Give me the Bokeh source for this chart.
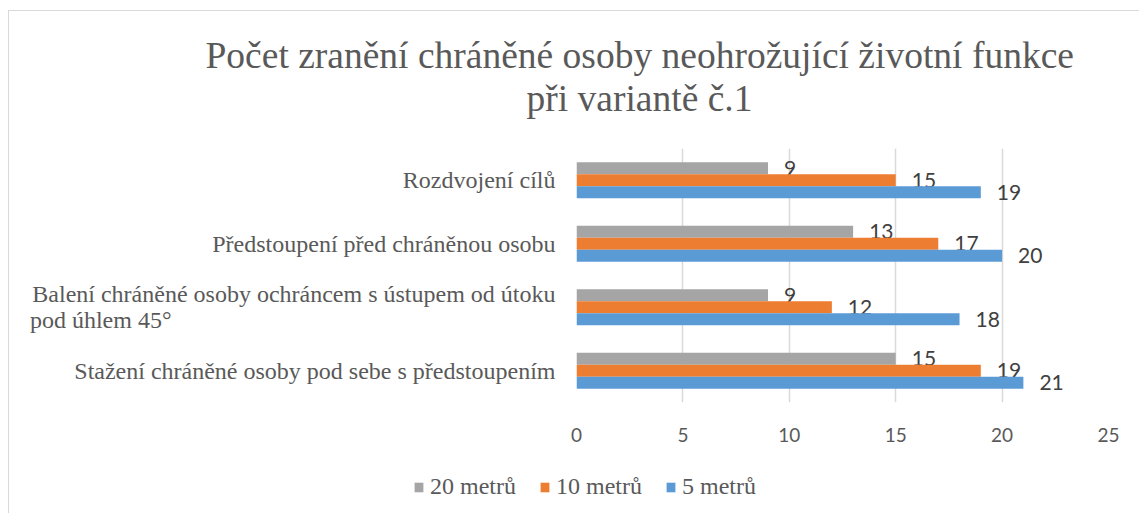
from bokeh.plotting import figure
from bokeh.layouts import column
from bokeh.models import (ColumnDataSource, Range1d, FactorRange, SingleIntervalTicker,
                          Legend, LegendItem, Title)
from bokeh.transform import dodge
from bokeh.core.properties import value
from bokeh.embed import file_html
from bokeh.resources import INLINE

# ---- data ----
categories = [
    "Stažení chráněné osoby pod sebe s předstoupením",
    "Balení chráněné osoby ochráncem s ústupem od útoku pod úhlem 45°",
    "Předstoupení před chráněnou osobu",
    "Rozdvojení cílů",
]
m20 = [15, 9, 13, 9]
m10 = [19, 12, 17, 15]
m5 = [21, 18, 20, 19]
series_names = ["20 metrů", "10 metrů", "5 metrů"]
x_ticks_interval = 5
title_lines = ["Počet zranění chráněné osoby neohrožující životní funkce", "při variantě č.1"]

# axis labels as shown (long label wrapped, second line left-aligned with NBSP padding)
NBSP = "\u00a0"
factors = [
    categories[0],
    "Balení chráněné osoby ochráncem s ústupem od útoku\npod úhlem 45°" + NBSP * 64,
    categories[2],
    categories[3],
]

source = ColumnDataSource(dict(
    cat=factors, m20=m20, m10=m10, m5=m5,
    l20=[str(v) for v in m20], l10=[str(v) for v in m10], l5=[str(v) for v in m5],
))

SERIF = "Liberation Serif"
SANS = "Lato"
TXT = "#595959"
BORDER = "#d9d9d9"

p = figure(width=1139, height=466, output_backend="svg", toolbar_location=None,
           x_range=Range1d(0, 25), y_range=FactorRange(factors=factors, range_padding=0),
           min_border_left=576, min_border_right=31, min_border_top=148, min_border_bottom=64)
p.frame_align = False
p.outline_line_color = None
p.background_fill_color = "white"
p.border_fill_alpha = 0
p.styles = {
    "background": f"linear-gradient({BORDER},{BORDER}) 8px 10px / 1px 100% no-repeat, "
                  f"linear-gradient({BORDER},{BORDER}) 8px 10px / 100% 1px no-repeat, white",
}

bh = 0.19
colors = {"m20": "#A5A5A5", "m10": "#ED7D31", "m5": "#5B9BD5"}
offsets = {"m20": bh, "m10": 0.0, "m5": -bh}
for key in ["m20", "m10", "m5"]:
    p.hbar(y=dodge("cat", offsets[key], range=p.y_range), right=key, left=0, height=bh,
           source=source, fill_color=colors[key], line_color=None)
    p.text(x=key, y=dodge("cat", offsets[key], range=p.y_range), text="l" + key[1:],
           source=source, x_offset=16, text_baseline="middle", text_align="left",
           text_font=value(SANS), text_font_size="21px", text_color="#404040")

# axes
p.xaxis.ticker = SingleIntervalTicker(interval=x_ticks_interval)
p.xaxis.axis_line_color = None
p.xaxis.major_tick_line_color = None
p.xaxis.minor_tick_line_color = None
p.xaxis.major_tick_out = 0
p.xaxis.minor_tick_out = 0
p.xaxis.major_label_standoff = 25
p.xaxis.major_label_text_font = SANS
p.xaxis.major_label_text_font_size = "19px"
p.xaxis.major_label_text_color = TXT

p.yaxis.axis_line_color = None
p.yaxis.major_tick_line_color = None
p.yaxis.minor_tick_line_color = None
p.yaxis.major_tick_out = 0
p.yaxis.minor_tick_out = 0
p.yaxis.major_label_standoff = 21
p.yaxis.major_label_text_font = SERIF
p.yaxis.major_label_text_font_size = "24px"
p.yaxis.major_label_text_line_height = 1.0
p.yaxis.major_label_text_color = TXT

p.xgrid.grid_line_color = BORDER
p.xgrid.grid_line_width = 1.5
p.ygrid.grid_line_color = None

# title: spacer nearest the frame, then line 2, then line 1
p.add_layout(Title(text=" ", text_font_size="25px", standoff=0), "above")
p.add_layout(Title(text=title_lines[1], align="left", offset=-50, standoff=0,
                   text_font=SERIF, text_font_size="37.5px", text_font_style="normal",
                   text_color=TXT), "above")
p.add_layout(Title(text=title_lines[0], align="left", offset=-371, standoff=0,
                   text_font=SERIF, text_font_size="37.5px", text_font_style="normal",
                   text_color=TXT), "above")

# legend strip below the chart (its own frame spans the whole strip)
p2 = figure(width=1139, height=47, output_backend="svg", toolbar_location=None,
            x_range=Range1d(0, 1), y_range=Range1d(0, 1),
            x_axis_location=None, y_axis_location=None, min_border=0)
p2.frame_align = False
p2.grid.visible = False
p2.outline_line_color = None
p2.background_fill_alpha = 0
p2.border_fill_alpha = 0
p2.styles = {
    "background": f"linear-gradient({BORDER},{BORDER}) 8px 0px / 1px 100% no-repeat, white",
}
swatches = []
for key in ["m20", "m10", "m5"]:
    # zero-width proxy glyphs: only used to draw the legend swatches
    swatches.append(p2.hbar(y=[0.5], left=[0], right=[0], height=0,
                            fill_color=colors[key], line_color=None))
items = [LegendItem(label=name, renderers=[r]) for name, r in zip(series_names, swatches)]
legend = Legend(items=items, orientation="horizontal", location=(413, 13),
                label_text_font=SERIF, label_text_font_size="24px", label_text_color=TXT,
                glyph_width=11, glyph_height=12, label_standoff=6, spacing=23,
                padding=0, margin=0, background_fill_alpha=0, border_line_color=None)
p2.add_layout(legend)

layout = column(p, p2, spacing=0)
open("out.html", "w").write(file_html(layout, INLINE))
